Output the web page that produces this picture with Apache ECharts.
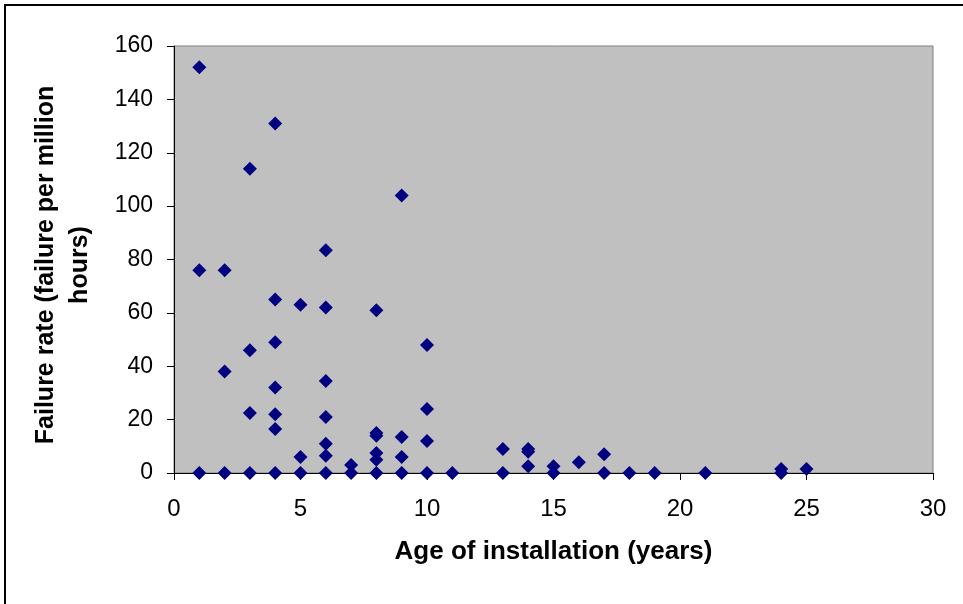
<!DOCTYPE html>
<html>
<head>
<meta charset="utf-8">
<script src="https://cdn.jsdelivr.net/npm/echarts@6/dist/echarts.min.js"></script>
<style>
  html, body { margin: 0; padding: 0; background: #fff; }
  #chart { width: 963px; height: 604px; }
</style>
</head>
<body>
<div id="chart"></div>
<script>
// age of installation (years) and matching failure rate, one entry per point
const ages = [
  1, 1, 1,
  2, 2, 2,
  3, 3, 3, 3,
  4, 4, 4, 4, 4, 4, 4,
  5, 5, 5,
  6, 6, 6, 6, 6, 6, 6,
  7, 7,
  8, 8, 8, 8, 8, 8,
  9, 9, 9, 9,
  10, 10, 10, 10,
  11,
  13, 13,
  14, 14, 14,
  15, 15,
  16,
  17, 17,
  18, 19, 21,
  24, 24,
  25
]
const failureRates = [
  152, 76, 0,
  76, 38, 0,
  114, 46, 22.5, 0,
  131, 65, 49, 32, 22, 16.5, 0,
  63, 6, 0,
  83.5, 62, 34.5, 21, 11, 6.5, 0,
  3, 0,
  61, 15, 14, 7.5, 5, 0,
  104, 13.5, 6, 0,
  48, 24, 12, 0,
  0,
  9, 0,
  9, 8, 2.5,
  2.5, 0,
  4,
  7, 0,
  0, 0, 0,
  1.5, 0,
  1.5
]
const xTicks = { min: 0, max: 30, interval: 5 }
const yTicks = { min: 0, max: 160, interval: 20 }

const points = ages.map((a, i) => [a, failureRates[i]])

const chart = echarts.init(document.getElementById('chart'))
chart.setOption({
  animation: false,
  backgroundColor: '#fff',
  grid: {
    left: 174,
    top: 46,
    right: 30,
    bottom: 131,
    show: true,
    backgroundColor: '#c0c0c0',
    borderColor: '#808080',
    borderWidth: 1
  },
  graphic: [
    {
      type: 'rect',
      shape: { x: 5, y: 5, width: 1000, height: 700 },
      style: { fill: 'none', stroke: '#000', lineWidth: 2 },
      silent: true
    },
    {
      type: 'text',
      x: 63,
      y: 265,
      rotation: Math.PI / 2,
      style: {
        text: 'Failure rate (failure per million\nhours)',
        font: 'bold 25px "Liberation Sans", Arial, sans-serif',
        fill: '#000',
        align: 'center',
        verticalAlign: 'middle',
        lineHeight: 34
      }
    }
  ],
  xAxis: {
    type: 'value',
    min: xTicks.min,
    max: xTicks.max,
    interval: xTicks.interval,
    name: 'Age of installation (years)',
    nameLocation: 'middle',
    nameGap: 66,
    nameTextStyle: {
      fontFamily: '"Liberation Sans", Arial, sans-serif',
      fontWeight: 'bold',
      fontSize: 26,
      color: '#000'
    },
    axisLine: { show: true, lineStyle: { color: '#000', width: 1 } },
    axisTick: { show: true, length: 7, lineStyle: { color: '#000' } },
    axisLabel: {
      margin: 24,
      fontFamily: '"Liberation Sans", Arial, sans-serif',
      fontSize: 24,
      color: '#000'
    },
    splitLine: { show: false }
  },
  yAxis: {
    type: 'value',
    min: yTicks.min,
    max: yTicks.max,
    interval: yTicks.interval,
    axisLine: { show: true, lineStyle: { color: '#000', width: 1 } },
    axisTick: { show: true, length: 7, lineStyle: { color: '#000' } },
    axisLabel: {
      margin: 21,
      fontFamily: '"Liberation Sans", Arial, sans-serif',
      fontSize: 23,
      color: '#000'
    },
    splitLine: { show: false }
  },
  series: [
    {
      type: 'scatter',
      symbol: 'diamond',
      symbolSize: 14,
      itemStyle: { color: '#000080', opacity: 1 },
      data: points
    }
  ]
})
</script>
</body>
</html>
